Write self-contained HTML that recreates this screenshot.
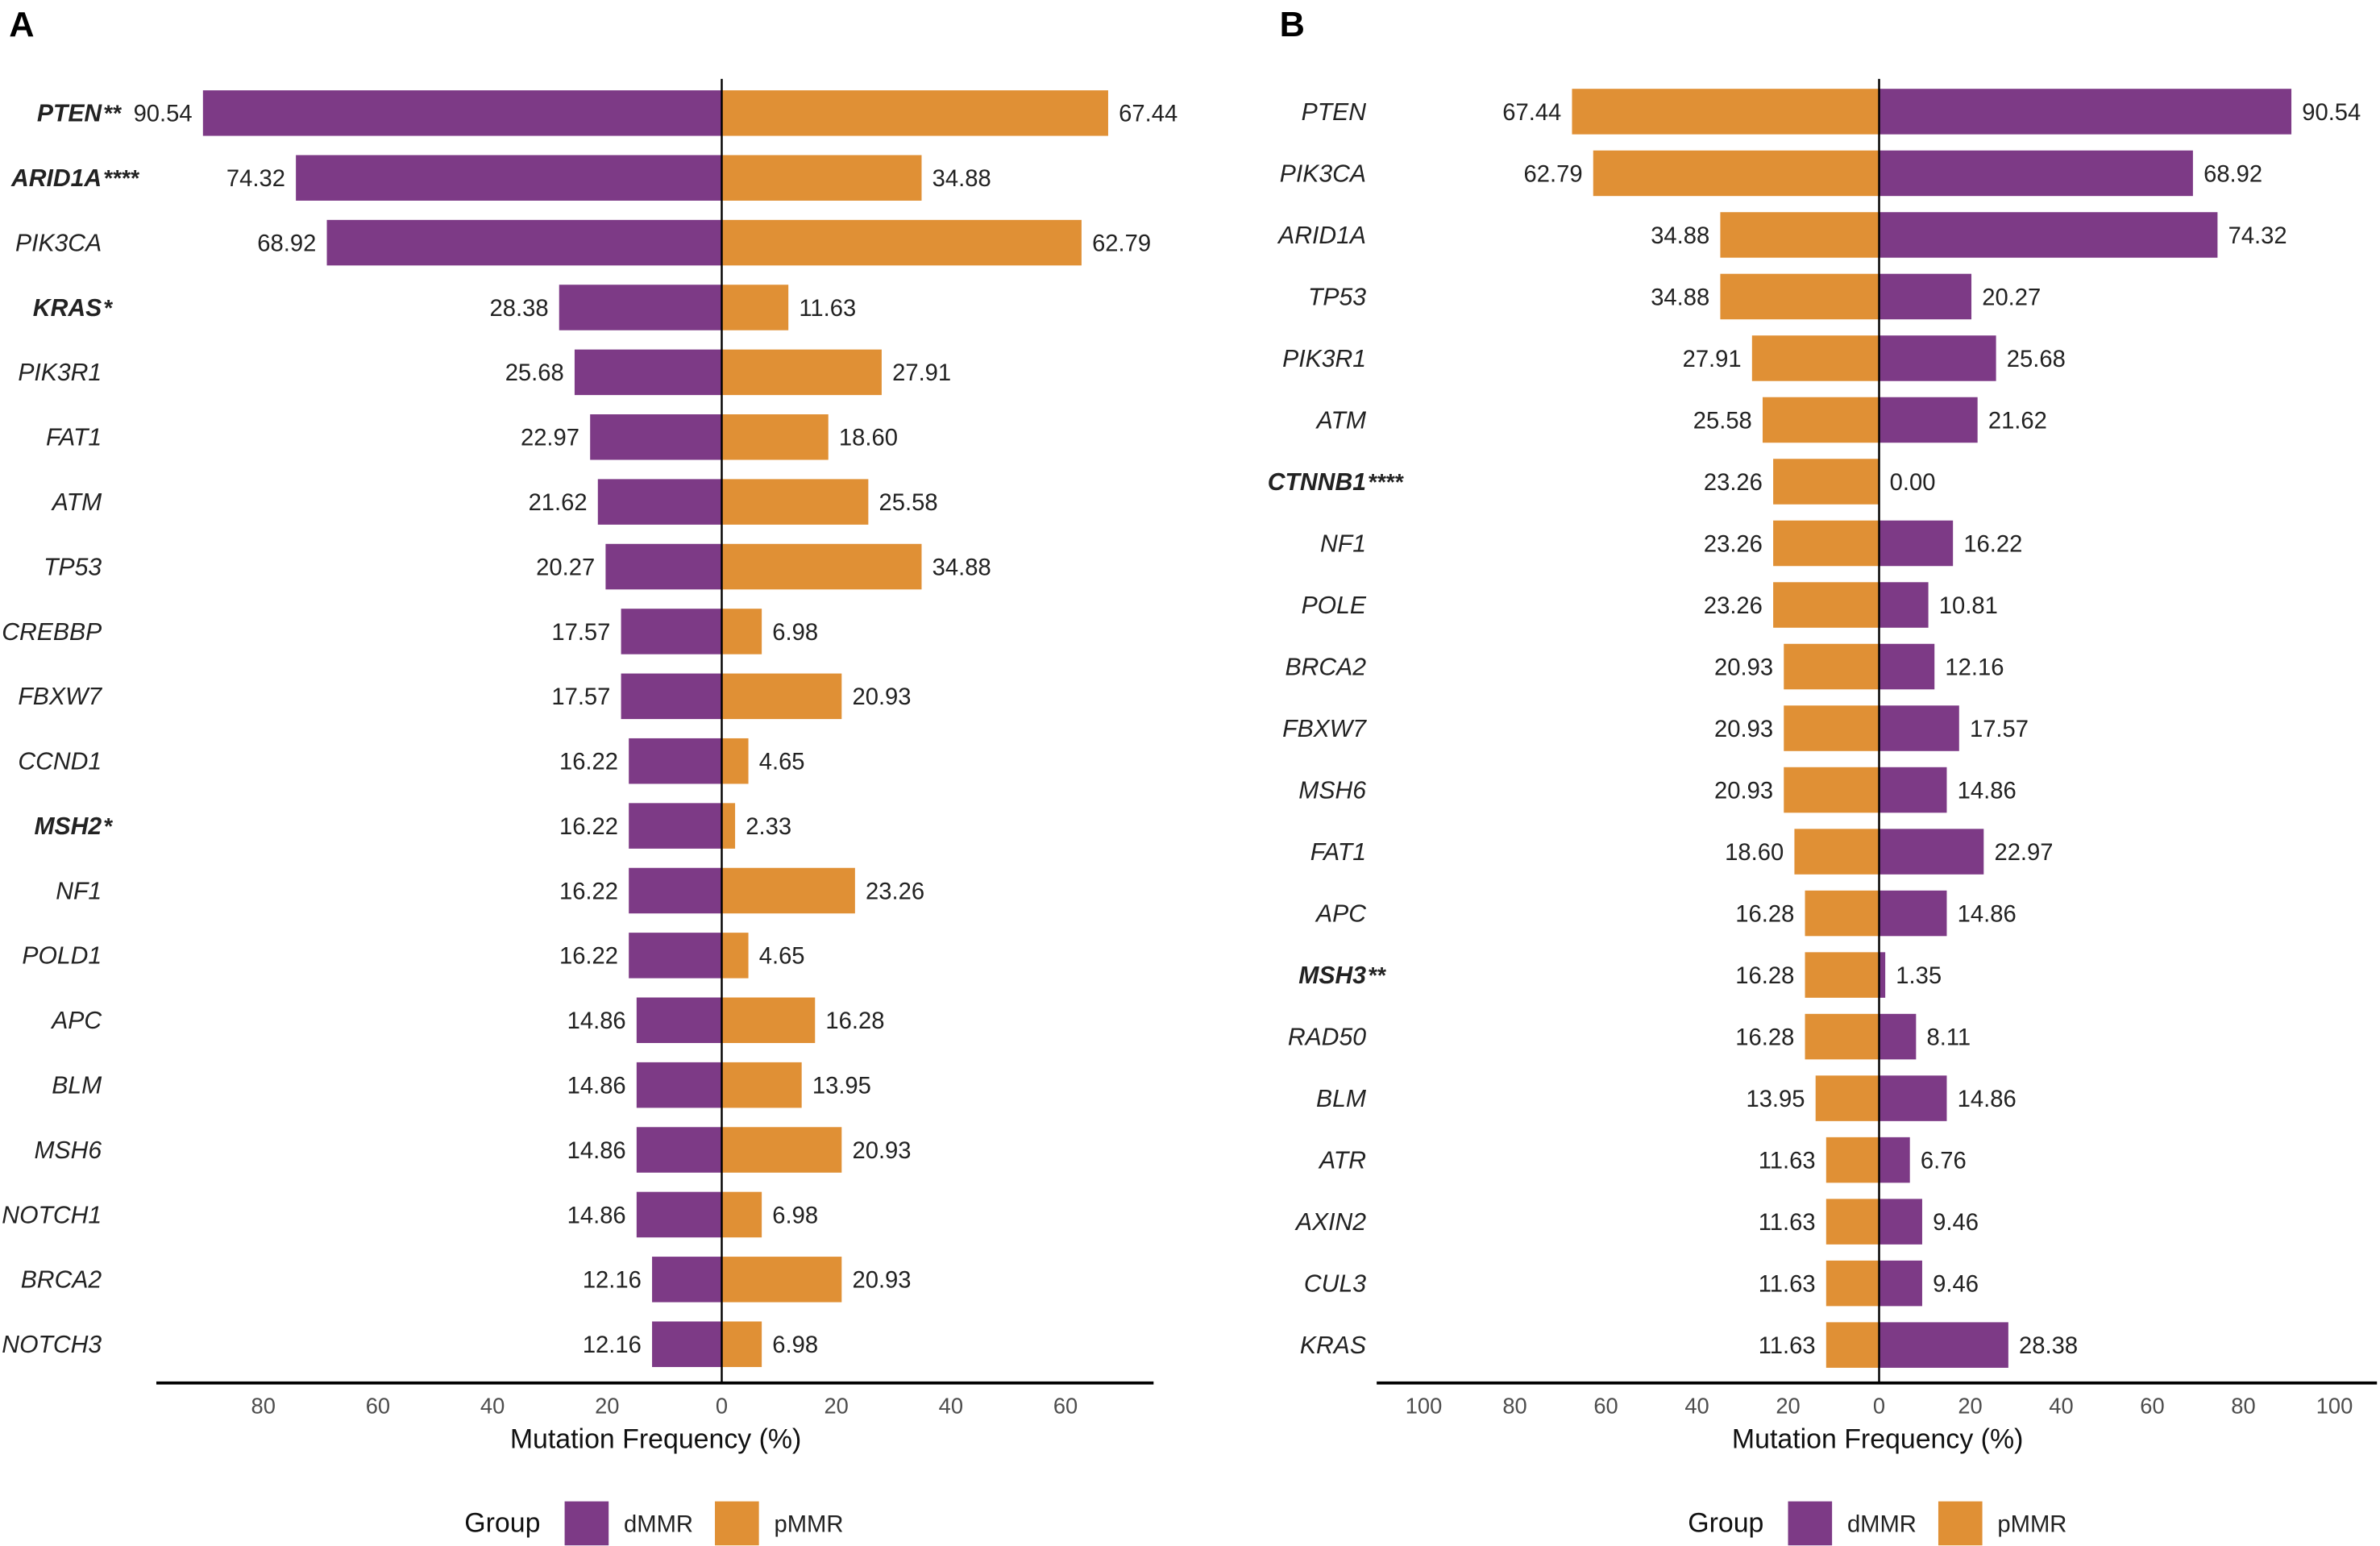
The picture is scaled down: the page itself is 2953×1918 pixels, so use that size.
<!DOCTYPE html>
<html><head><meta charset="utf-8"><style>
html,body{margin:0;padding:0;background:#fff}
svg{display:block;font-family:"Liberation Sans",Arial,sans-serif}
</style></head><body>
<svg id="chart" width="2953" height="1918" viewBox="0 0 1568 1018.4" preserveAspectRatio="none" xmlns="http://www.w3.org/2000/svg"></svg>
<script>
const genesA=["PTEN","ARID1A","PIK3CA","KRAS","PIK3R1","FAT1","ATM","TP53","CREBBP","FBXW7","CCND1","MSH2","NF1","POLD1","APC","BLM","MSH6","NOTCH1","BRCA2","NOTCH3"];
const starsA=["**","****","","*","","","","","","","","*","","","","","","","",""];
const dmmrA=[90.54,74.32,68.92,28.38,25.68,22.97,21.62,20.27,17.57,17.57,16.22,16.22,16.22,16.22,14.86,14.86,14.86,14.86,12.16,12.16];
const pmmrA=[67.44,34.88,62.79,11.63,27.91,18.60,25.58,34.88,6.98,20.93,4.65,2.33,23.26,4.65,16.28,13.95,20.93,6.98,20.93,6.98];
const ticksAleft=[80,60,40,20,0];
const ticksAright=[20,40,60];
const genesB=["PTEN","PIK3CA","ARID1A","TP53","PIK3R1","ATM","CTNNB1","NF1","POLE","BRCA2","FBXW7","MSH6","FAT1","APC","MSH3","RAD50","BLM","ATR","AXIN2","CUL3","KRAS"];
const starsB=["","","","","","","****","","","","","","","","**","","","","","",""];
const pmmrB=[67.44,62.79,34.88,34.88,27.91,25.58,23.26,23.26,23.26,20.93,20.93,20.93,18.60,16.28,16.28,16.28,13.95,11.63,11.63,11.63,11.63];
const dmmrB=[90.54,68.92,74.32,20.27,25.68,21.62,0.00,16.22,10.81,12.16,17.57,14.86,22.97,14.86,1.35,8.11,14.86,6.76,9.46,9.46,28.38];
const ticksBleft=[100,80,60,40,20,0];
const ticksBright=[20,40,60,80,100];

const NS="http://www.w3.org/2000/svg";
const svg=document.getElementById('chart');
const PURPLE="#7D3A86", ORANGE="#E09035";
function mk(tag,attrs,parent){const e=document.createElementNS(NS,tag);for(const k in attrs)e.setAttribute(k,attrs[k]);(parent||svg).appendChild(e);return e;}

function panel(cfg){
  const g=mk('g',{});
  
  
  const x=v=>cfg.cx+v*cfg.k;
  const n=cfg.genes.length;
  const y=i=>cfg.y0+i*(cfg.y1-cfg.y0)/(n-1);
  const bh=30;
  for(let i=0;i<n;i++){
    const lv=cfg.left[i], rv=cfg.right[i];
    const lb=mk('rect',{x:x(-lv),y:y(i)-bh/2,width:x(0)-x(-lv),height:bh,fill:cfg.leftColor},g);
    
    
    const rb=mk('rect',{x:x(0),y:y(i)-bh/2,width:x(rv)-x(0),height:bh,fill:cfg.rightColor},g);
    
    
    const lt=mk('text',{x:x(-lv)-7,y:y(i)+5.5,'text-anchor':'end','font-size':15.5,fill:'#222'},g);
    lt.textContent=lv.toFixed(2);
    
    
    const rt=mk('text',{x:x(rv)+7,y:y(i)+5.5,'font-size':15.5,fill:'#222'},g);
    rt.textContent=rv.toFixed(2);
    
    
    const bold=cfg.stars[i]!=="";
    const gt=mk('text',{x:cfg.labelX,y:y(i)+5.5,'text-anchor':'end','font-size':16,'font-style':'italic','font-weight':bold?'bold':'normal',fill:'#222'},g);
    gt.textContent=cfg.genes[i];
    
    
    if(bold){
      const st=mk('text',{x:cfg.labelX+1,y:y(i)+5.5,'font-size':15,'font-style':'italic','font-weight':'bold',fill:'#222'},g);
      st.textContent=cfg.stars[i];
      
      
    }
  }
  const cl=mk('line',{x1:x(0),x2:x(0),y1:52,y2:cfg.axisY,stroke:'#000','stroke-width':1.3},g);
  
  
  const ax=mk('line',{x1:cfg.ax0,x2:cfg.ax1,y1:cfg.axisY,y2:cfg.axisY,stroke:'#000','stroke-width':2},g);
  
  
  cfg.ticksL.forEach(t=>{
    const tt=mk('text',{x:x(-t),y:cfg.axisY+20,'text-anchor':'middle','font-size':14.5,fill:'#4d4d4d'},g);
    tt.textContent=t;
    
    
  });
  cfg.ticksR.forEach(t=>{
    const tt=mk('text',{x:x(t),y:cfg.axisY+20,'text-anchor':'middle','font-size':14.5,fill:'#4d4d4d'},g);
    tt.textContent=t;
    
    
  });
  const at=mk('text',{x:cfg.titleX,y:cfg.axisY+43,'text-anchor':'middle','font-size':18,fill:'#111'},g);
  at.textContent='Mutation Frequency (%)';
  
  
  const pl=mk('text',{x:cfg.letterX,y:24,'font-size':23,'font-weight':'bold',fill:'#000'},g);
  pl.textContent=cfg.letter;
  
  
  // legend
  const lg=mk('g',{},g);
  
  
  const lx=cfg.legendX;
  const t1=mk('text',{x:lx,y:1009,'font-size':18,fill:'#111'},lg);t1.textContent='Group';
  
  
  const r1=mk('rect',{x:lx+66,y:989,width:29,height:29,fill:PURPLE},lg);
  
  
  const l1=mk('text',{x:lx+105,y:1009,'font-size':15.5,fill:'#222'},lg);l1.textContent='dMMR';
  
  
  const r2=mk('rect',{x:lx+165,y:989,width:29,height:29,fill:ORANGE},lg);
  
  
  const l2=mk('text',{x:lx+204,y:1009,'font-size':15.5,fill:'#222'},lg);l2.textContent='pMMR';
  
  
}

panel({name:'panel-a',letter:'A',letterX:6,cx:475.5,k:3.775,y0:74.5,y1:885.5,genes:genesA,stars:starsA,left:dmmrA,right:pmmrA,leftColor:PURPLE,rightColor:ORANGE,labelX:67,axisY:911,ax0:103,ax1:760,ticksL:ticksAleft,ticksR:ticksAright,titleX:432,legendX:306});
panel({name:'panel-b',letter:'B',letterX:843,cx:1238,k:3.0,y0:73.5,y1:886,genes:genesB,stars:starsB,left:pmmrB,right:dmmrB,leftColor:ORANGE,rightColor:PURPLE,labelX:900,axisY:911,ax0:907,ax1:1566,ticksL:ticksBleft,ticksR:ticksBright,titleX:1237,legendX:1112});
</script>
</body></html>
